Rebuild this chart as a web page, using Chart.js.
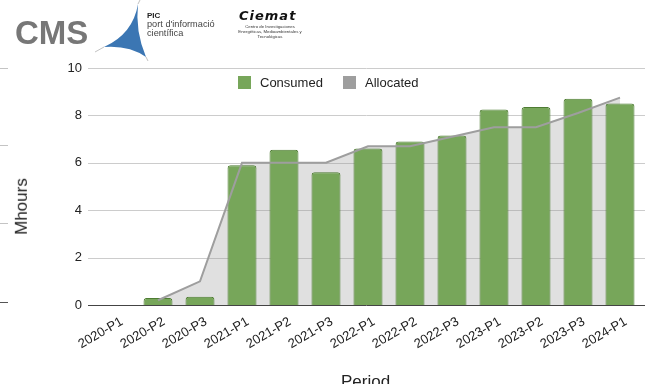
<!DOCTYPE html>
<html>
<head>
<meta charset="utf-8">
<script src="https://cdn.jsdelivr.net/npm/chart.js@4.4.1/dist/chart.umd.min.js"></script>
<style>
  html, body { margin: 0; padding: 0; background: #fff; }
  body { width: 645px; height: 384px; position: relative; overflow: hidden; font-family: 'Liberation Sans', Arial, sans-serif; }
  #chart { position: absolute; left: 0; top: 0; }
  .abs { position: absolute; white-space: nowrap; }
  .cms { left: 15px; top: 16px; font-size: 33px; line-height: 33px; font-weight: bold; color: #777; }
  .pic-name { left: 147px; top: 12px; font-size: 8px; line-height: 8px; font-weight: bold; color: #222; }
  .pic-sub { left: 147px; top: 20px; font-size: 9.2px; line-height: 8.5px; color: #444; }
  .ciemat { left: 239px; top: 9px; font-family: 'DejaVu Sans', sans-serif; font-size: 13px; line-height: 13px; font-weight: bold; color: #111; letter-spacing: 1px; }
  .ciemat-sub { left: 237px; top: 25px; width: 66px; text-align: center; font-size: 4.3px; line-height: 4.9px; color: #333; white-space: normal; }
  .legend { top: 76px; font-size: 13px; line-height: 14px; color: #222; }
  .legend i { position: absolute; left: 0; top: 0; width: 13px; height: 13px; }
  .legend span { position: absolute; left: 22px; top: 0; }
  .axis-title { font-size: 17px; line-height: 17px; color: #222; }
</style>
</head>
<body>
<canvas id="chart" width="645" height="384"></canvas>

<div class="abs cms">CMS</div>
<svg class="abs" style="left:95px;top:0" width="60" height="62">
  <line x1="45" y1="0" x2="43" y2="4" stroke="#999" stroke-width="0.6"/>
  <line x1="9" y1="47" x2="0" y2="52" stroke="#999" stroke-width="0.6"/>
  <line x1="51" y1="57" x2="53" y2="61" stroke="#999" stroke-width="0.6"/>
  <path d="M43,4 Q38,34 9,47 Q34,45 51,57 Q40,31 43,4 Z" fill="#3b76b3"/>
</svg>
<div class="abs pic-name">PIC</div>
<div class="abs pic-sub">port d'informació<br>científica</div>
<div class="abs ciemat"><i>Ciemat</i></div>
<div class="abs ciemat-sub">Centro de Investigaciones Energéticas, Medioambientales y Tecnológicas</div>

<div class="abs legend" style="left:238px"><i style="background:#77a65a"></i><span id="lg0"></span></div>
<div class="abs legend" style="left:343px"><i style="background:#9e9e9e"></i><span id="lg1"></span></div>

<div class="abs axis-title" id="ytitle" style="left:-7px;top:198px;transform:rotate(-90deg);"></div>
<div class="abs axis-title" id="xtitle" style="left:341px;top:373px;"></div>

<script>
// periodos y horas (millones)
const periods = ['2020-P1', '2020-P2', '2020-P3', '2021-P1', '2021-P2', '2021-P3', '2022-P1',
                 '2022-P2', '2022-P3', '2023-P1', '2023-P2', '2023-P3', '2024-P1'];
const consumed = [0, 0.3, 0.35, 5.9, 6.55, 5.6, 6.6, 6.9, 7.15, 8.25, 8.35, 8.7, 8.5];
const allocated = [null, 0.2, 1.0, 6.0, 6.0, 6.0, 6.7, 6.7, 7.1, 7.5, 7.5, 8.1, 8.75];
const yTicks = [0, 2, 4, 6, 8, 10];
const seriesNames = ['Consumed', 'Allocated'];
const axisTitles = { x: 'Period', y: 'Mhours' };

document.getElementById('lg0').textContent = seriesNames[0];
document.getElementById('lg1').textContent = seriesNames[1];
document.getElementById('xtitle').textContent = axisTitles.x;
document.getElementById('ytitle').textContent = axisTitles.y;

Chart.defaults.font.family = "'Liberation Sans', Arial, sans-serif";
Chart.defaults.color = '#222';

function hline(c, x0, x1, y, color) {
    c.strokeStyle = color;
    c.beginPath();
    c.moveTo(x0, y);
    c.lineTo(x1, y);
    c.stroke();
}

// lineas horizontales de la rejilla, un poco mas anchas que el area
const gridLines = {
    id: 'gridLines',
    beforeDraw(chart) {
        const c = chart.ctx;
        const y = chart.scales.y;
        c.save();
        c.lineWidth = 1;
        yTicks.forEach(v => {
            if (v === 0) return;
            hline(c, 88, 645, Math.round(y.getPixelForValue(v)) + 0.5, '#cccccc');
        });
        // marcas sueltas del borde izquierdo
        [68.5, 145.5, 223.5].forEach(py => hline(c, 0, 8, py, '#c4c4c4'));
        hline(c, 0, 8, 302.5, '#555');
        c.restore();
    },
    afterDatasetsDraw(chart) {
        const c = chart.ctx;
        c.save();
        c.lineWidth = 1;
        hline(c, 88, 645, Math.round(chart.scales.y.getPixelForValue(0)) + 0.5, '#444');
        c.restore();
    }
};

const ctx = document.getElementById('chart').getContext('2d');
new Chart(ctx, {
    data: {
        labels: periods,
        datasets: [{
            type: 'line',
            label: seriesNames[1],
            data: allocated,
            borderColor: '#9e9e9e',
            borderWidth: 2,
            backgroundColor: 'rgba(153,153,153,0.3)',
            fill: 'origin',
            tension: 0,
            pointRadius: 0,
            spanGaps: false,
            order: 0
        }, {
            type: 'bar',
            label: seriesNames[0],
            data: consumed,
            backgroundColor: '#77a65a',
            borderColor: '#4e7c33',
            borderWidth: 1,
            borderRadius: { topLeft: 3, topRight: 3 },
            borderSkipped: 'bottom',
            categoryPercentage: 1,
            barPercentage: 0.69,
            order: 1
        }]
    },
    options: {
        responsive: false,
        animation: false,
        devicePixelRatio: 1,
        layout: { padding: { top: 68, right: 4, left: 0, bottom: 0 } },
        plugins: {
            legend: { display: false },
            tooltip: { enabled: false },
            filler: { drawTime: 'beforeDatasetsDraw' }
        },
        scales: {
            x: {
                grid: { display: false, drawTicks: false },
                border: { display: false },
                ticks: {
                    autoSkip: false,
                    minRotation: 30,
                    maxRotation: 30,
                    padding: 9,
                    labelOffset: 6,
                    font: { size: 13 }
                },
                afterFit(scale) { scale.height = 79; }
            },
            y: {
                min: 0,
                max: 10,
                grid: { display: false, drawTicks: false },
                border: { display: false },
                ticks: {
                    stepSize: 2,
                    padding: 13,
                    font: { size: 13 }
                },
                afterFit(scale) { scale.width = 95; }
            }
        }
    },
    plugins: [gridLines]
});
</script>
</body>
</html>
